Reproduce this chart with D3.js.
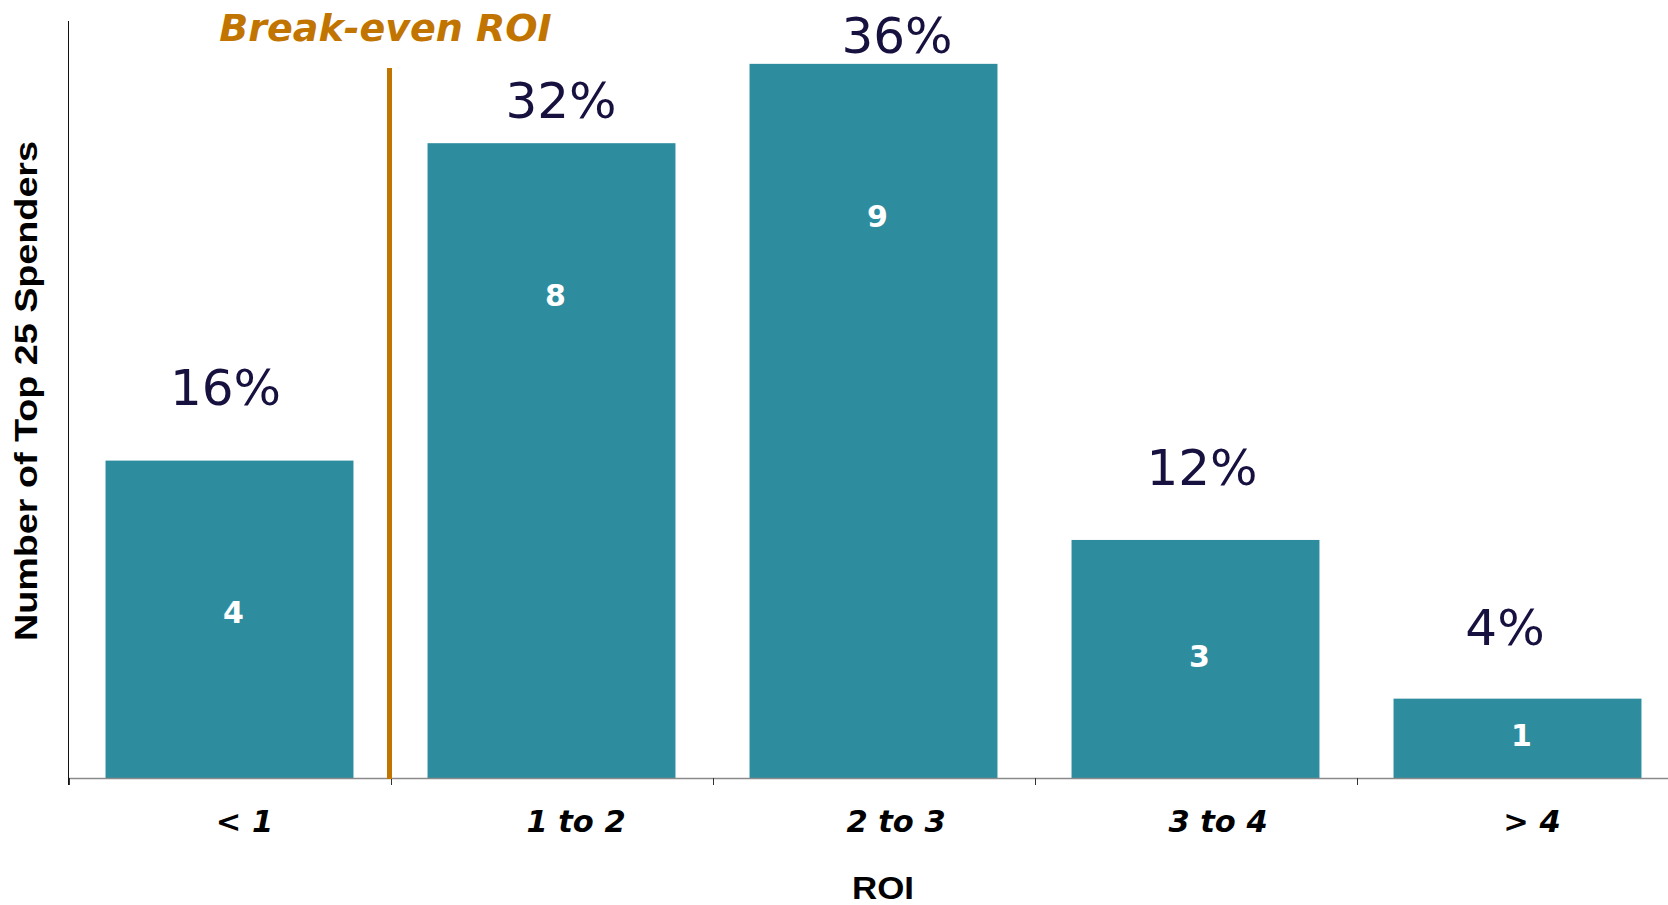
<!DOCTYPE html>
<html>
<head>
<meta charset="utf-8">
<script src="https://cdn.jsdelivr.net/npm/d3@7"></script>
<style>
  html, body { margin: 0; padding: 0; background: #fff; }
  svg { display: block; }
</style>
</head>
<body>
<svg id="chart" width="1668" height="905"></svg>
<script>
// ---- data ----
const categories = ["< 1", "1 to 2", "2 to 3", "3 to 4", "> 4"];
const counts = [4, 8, 9, 3, 1];
const breakEvenLabel = "Break-even ROI";
const xTitle = "ROI";
const yTitle = "Number of Top 25 Spenders";

// ---- layout ----
const W = 1668, H = 905;
const plotLeft = 68.5, plotRight = 1678.5, plotTop = 21, plotBottom = 778;
const yMax = 9.54;
// hand-placed percentage label offsets (dx from bar centre, gap above bar top)
const pctLayout = [
  { dx: -4, gap: 56 },
  { dx: 9.5, gap: 25 },
  { dx: 23.5, gap: 11 },
  { dx: 6.5, gap: 55 },
  { dx: -12.5, gap: 54 }
];
// hand-placed category label offsets from band centre
const catDx = [15, 24.5, 22.5, 22.5, 14.5];

const barColor = "#2E8C9F";
const orange = "#C17500";
const navy = "#16113F";

const svg = d3.select("#chart");

const x = d3.scaleBand().domain(categories).range([plotLeft, plotRight]).paddingInner(0).paddingOuter(0);
const y = d3.scaleLinear().domain([0, yMax]).range([plotBottom, plotTop]);

const barFrac = 0.77;
const bw = x.bandwidth();
const barW = bw * barFrac;
const barX = c => x(c) + (bw - barW) / 2;
const barC = c => x(c) + bw / 2;

const total = d3.sum(counts);
const pctFmt = d3.format(".0%");

const data = categories.map((c, i) => ({ c, v: counts[i], i }));

// bars
svg.append("g").selectAll("rect").data(data).join("rect")
  .attr("x", d => barX(d.c))
  .attr("y", d => y(d.v))
  .attr("width", barW)
  .attr("height", d => y(0) - y(d.v))
  .attr("fill", barColor);

// x axis line
svg.append("line")
  .attr("x1", plotLeft).attr("x2", W)
  .attr("y1", plotBottom + 0.5).attr("y2", plotBottom + 0.5)
  .attr("stroke", "#8a8a8a").attr("stroke-width", 1.5);

// ticks at band boundaries
svg.append("g").selectAll("line").data(categories).join("line")
  .attr("x1", d => Math.round(x(d)) + 0.5).attr("x2", d => Math.round(x(d)) + 0.5)
  .attr("y1", plotBottom).attr("y2", plotBottom + 7)
  .attr("stroke", "#333").attr("stroke-width", 1);

// y axis line
svg.append("line")
  .attr("x1", plotLeft).attr("x2", plotLeft)
  .attr("y1", plotTop).attr("y2", plotBottom + 7)
  .attr("stroke", "#111").attr("stroke-width", 1);

// break-even line
const beX = x(categories[1]) - 1;
svg.append("line")
  .attr("x1", beX).attr("x2", beX)
  .attr("y1", 68).attr("y2", plotBottom + 1)
  .attr("stroke", orange).attr("stroke-width", 5);

svg.append("text")
  .attr("x", beX - 4).attr("y", 41)
  .attr("text-anchor", "middle")
  .attr("font-family", "DejaVu Sans")
  .attr("font-weight", "bold").attr("font-style", "italic")
  .attr("font-size", 38)
  .attr("fill", orange)
  .text(breakEvenLabel);

// count labels inside bars
svg.append("g").selectAll("text").data(data).join("text")
  .attr("x", d => barC(d.c) + 4)
  .attr("y", d => Math.min(y(d.v) + 152, (y(d.v) + y(0)) / 2 - 3))
  .attr("dy", "0.36em")
  .attr("text-anchor", "middle")
  .attr("font-family", "DejaVu Sans").attr("font-weight", "bold")
  .attr("font-size", 30)
  .attr("fill", "#fff")
  .text(d => d.v);

// percentage labels
svg.append("g").selectAll("text").data(data).join("text")
  .attr("x", d => barC(d.c) + pctLayout[d.i].dx)
  .attr("y", d => y(d.v) - pctLayout[d.i].gap)
  .attr("text-anchor", "middle")
  .attr("font-family", "DejaVu Sans")
  .attr("font-size", 50)
  .attr("fill", navy)
  .text(d => pctFmt(d.v / total));

// category labels
svg.append("g").selectAll("text").data(categories).join("text")
  .attr("x", (d, i) => barC(d) + catDx[i])
  .attr("y", 832)
  .attr("text-anchor", "middle")
  .attr("font-family", "DejaVu Sans")
  .attr("font-weight", "bold").attr("font-style", "italic")
  .attr("font-size", 30.5)
  .attr("fill", "#000")
  .text(d => d);

// axis titles
svg.append("text")
  .attr("x", 883).attr("y", 899)
  .attr("text-anchor", "middle")
  .attr("font-family", "Liberation Sans")
  .attr("font-weight", "bold")
  .attr("font-size", 32)
  .attr("textLength", 62).attr("lengthAdjust", "spacingAndGlyphs")
  .attr("fill", "#000")
  .text(xTitle);

svg.append("text")
  .attr("transform", "translate(37,391) rotate(-90)")
  .attr("text-anchor", "middle")
  .attr("font-family", "Liberation Sans")
  .attr("font-weight", "bold")
  .attr("font-size", 31)
  .attr("textLength", 500).attr("lengthAdjust", "spacingAndGlyphs")
  .attr("fill", "#000")
  .text(yTitle);
</script>
</body>
</html>
